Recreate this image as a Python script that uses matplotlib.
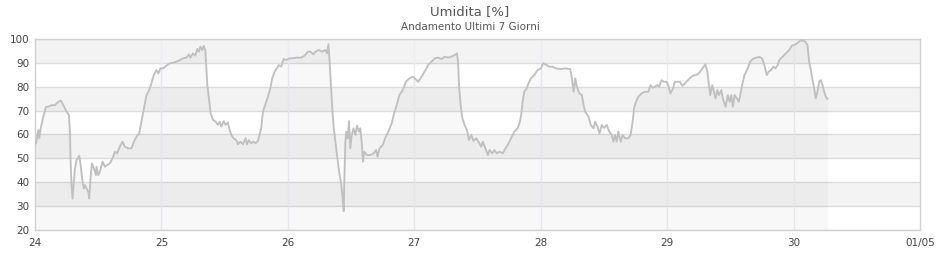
import matplotlib
matplotlib.use("Agg")
import matplotlib.pyplot as plt
import numpy as np

# ---- data (day of month, relative humidity %) ----
days_a = [24.008, 24.026, 24.034, 24.045, 24.066, 24.087, 24.105, 24.132, 24.158, 24.184,
          24.205, 24.224, 24.25, 24.268, 24.276, 24.282, 24.289, 24.297, 24.308, 24.316,
          24.329, 24.35, 24.361, 24.376, 24.387, 24.395, 24.408, 24.421, 24.429, 24.439,
          24.45, 24.466, 24.482, 24.487, 24.5, 24.513, 24.534, 24.553, 24.571, 24.592,
          24.613, 24.632, 24.65, 24.671, 24.692, 24.711, 24.737, 24.763, 24.782, 24.803,
          24.824, 24.842, 24.855, 24.868, 24.882, 24.903, 24.921, 24.939, 24.961, 24.976,
          24.992, 25.013, 25.039, 25.066, 25.097, 25.132, 25.171, 25.197, 25.218, 25.229,
          25.25, 25.268, 25.284, 25.297, 25.308, 25.324, 25.334, 25.347, 25.355, 25.363,
          25.376, 25.389, 25.408, 25.429, 25.447, 25.461, 25.474, 25.492, 25.508, 25.526,
          25.539, 25.553, 25.571, 25.592, 25.605, 25.624, 25.645, 25.666, 25.676, 25.692,
          25.711, 25.729, 25.745, 25.763, 25.776, 25.789, 25.803, 25.824, 25.842, 25.861,
          25.876, 25.895, 25.913, 25.929, 25.947, 25.966, 25.987, 26.013, 26.039, 26.066,
          26.105, 26.132, 26.158]
hum_a = [56.3, 61.9, 58.4, 62.6, 67.5, 71.6, 71.6, 72.3, 72.3, 73.7,
         74.2, 72.3, 69.6, 68.2, 61.2, 48.6, 38.8, 33.2, 40.2, 45.8,
         49.3, 51.1, 47.2, 40.2, 37.4, 38.8, 37.4, 36.0, 33.2, 41.6,
         47.9, 45.8, 43.0, 46.5, 43.0, 44.4, 48.6, 46.5, 47.2, 47.9,
         50.0, 52.8, 52.1, 54.9, 57.0, 54.9, 54.2, 54.2, 57.0, 59.1,
         60.5, 65.4, 68.9, 72.3, 76.5, 78.6, 81.4, 84.9, 87.0, 85.6,
         87.7, 87.7, 88.8, 89.8, 90.1, 90.8, 91.9, 92.2, 93.6, 92.2,
         94.0, 93.0, 95.8, 94.7, 96.8, 95.4, 97.1, 95.4, 87.7, 80.7,
         75.1, 68.9, 66.1, 65.4, 64.0, 65.4, 63.3, 65.6, 64.0, 65.1,
         61.9, 59.8, 58.4, 57.7, 55.9, 57.0, 55.9, 58.4, 55.9, 57.7,
         56.3, 57.0, 56.3, 57.3, 59.8, 62.6, 69.6, 73.0, 75.8, 79.3,
         83.5, 86.3, 87.7, 89.1, 88.4, 91.6, 91.2, 91.9, 91.9, 92.2,
         92.2, 93.0, 94.7]

days_b = [26.179, 26.2, 26.219, 26.245, 26.271, 26.297, 26.31, 26.321, 26.332, 26.342,
          26.353, 26.363, 26.376, 26.389, 26.402, 26.415, 26.423, 26.431, 26.442, 26.447,
          26.455, 26.463, 26.473, 26.484, 26.494, 26.505, 26.52, 26.533, 26.547, 26.562,
          26.573, 26.586, 26.594, 26.604, 26.625, 26.651, 26.678, 26.698, 26.709, 26.725,
          26.751, 26.769, 26.795, 26.822, 26.84, 26.861, 26.882, 26.908, 26.934, 26.961,
          26.987, 27.005, 27.031, 27.058, 27.084, 27.11, 27.136, 27.162, 27.189, 27.215,
          27.241, 27.267, 27.293, 27.32, 27.338, 27.346, 27.354, 27.364, 27.38, 27.398,
          27.417, 27.432, 27.451, 27.469, 27.49, 27.511, 27.529, 27.542, 27.563, 27.582,
          27.595, 27.616, 27.634, 27.653, 27.673, 27.7, 27.721, 27.739, 27.765, 27.791,
          27.818, 27.836, 27.849, 27.857, 27.87, 27.888, 27.909, 27.922, 27.949, 27.975,
          28.001, 28.019, 28.04, 28.067, 28.093, 28.119, 28.158]
hum_b = [94.7, 93.6, 94.7, 95.4, 94.7, 95.4, 94.0, 97.8, 89.1, 79.3,
         69.6, 62.6, 57.0, 51.4, 45.8, 41.6, 38.8, 34.6, 27.9, 41.6,
         57.0, 61.2, 58.4, 65.6, 54.2, 59.8, 62.6, 59.8, 63.7, 61.2,
         62.6, 55.6, 48.6, 52.8, 51.4, 51.4, 52.1, 53.5, 50.7, 54.2,
         55.6, 58.4, 61.2, 64.7, 68.9, 72.3, 76.5, 78.6, 82.1, 83.5,
         84.2, 83.5, 82.1, 84.2, 86.6, 89.1, 90.5, 91.9, 92.2, 91.6,
         92.6, 92.2, 92.6, 93.3, 94.0, 90.5, 80.7, 73.7, 66.8, 64.0,
         61.9, 57.7, 59.8, 57.3, 58.4, 56.7, 54.9, 57.0, 54.2, 51.4,
         53.5, 52.1, 53.5, 52.1, 52.8, 52.1, 54.2, 55.6, 58.4, 61.2,
         62.6, 65.4, 69.6, 73.7, 77.9, 79.3, 82.1, 83.5, 84.9, 87.0,
         87.7, 89.8, 89.4, 88.4, 88.4, 87.7, 87.4]

days_c = [28.194, 28.234, 28.247, 28.26, 28.273, 28.286, 28.307, 28.326, 28.339, 28.352,
          28.378, 28.396, 28.417, 28.431, 28.449, 28.465, 28.483, 28.501, 28.522, 28.543,
          28.562, 28.575, 28.588, 28.601, 28.614, 28.633, 28.648, 28.667, 28.693, 28.711,
          28.727, 28.738, 28.753, 28.772, 28.798, 28.824, 28.851, 28.869, 28.885, 28.903,
          28.921, 28.937, 28.956, 28.974, 28.995, 29.008, 29.026, 29.047, 29.06, 29.079,
          29.1, 29.121, 29.139, 29.166, 29.192, 29.218, 29.244, 29.27, 29.289, 29.302,
          29.318, 29.331, 29.341, 29.357, 29.37, 29.383, 29.396, 29.41, 29.428, 29.441,
          29.462, 29.48, 29.494, 29.507, 29.52, 29.533, 29.551, 29.567, 29.578, 29.593,
          29.612, 29.625, 29.638, 29.656, 29.677, 29.704, 29.73, 29.751, 29.769, 29.788,
          29.803, 29.822, 29.84, 29.856, 29.874, 29.887, 29.913, 29.94, 29.966, 29.987,
          30.018, 30.05, 30.071, 30.092, 30.11, 30.123, 30.137, 30.15, 30.163, 30.176,
          30.189, 30.202, 30.215, 30.229, 30.242, 30.255, 30.268]
hum_c = [87.7, 87.4, 83.5, 77.9, 83.5, 80.0, 77.2, 76.5, 72.3, 69.6,
         67.5, 64.0, 62.6, 65.4, 63.3, 60.5, 64.0, 62.8, 64.0, 61.2,
         59.8, 57.0, 59.8, 57.0, 61.2, 57.0, 59.8, 58.4, 58.4, 59.8,
         65.4, 70.9, 73.7, 75.8, 77.2, 77.9, 77.9, 80.7, 79.6, 80.0,
         80.7, 80.0, 82.8, 82.1, 82.1, 80.7, 77.2, 79.3, 82.1, 82.1,
         82.1, 80.4, 81.4, 82.8, 84.2, 84.9, 85.2, 87.0, 88.4, 89.4,
         86.3, 80.7, 76.5, 80.7, 77.9, 75.1, 78.6, 76.5, 78.6, 75.1,
         71.6, 76.5, 73.7, 76.5, 71.6, 76.5, 75.1, 73.7, 76.5, 80.7,
         84.9, 86.3, 87.7, 90.5, 91.6, 92.2, 92.5, 91.9, 89.1, 84.9,
         86.3, 87.0, 88.4, 87.7, 89.1, 91.2, 92.6, 94.0, 95.4, 97.2,
         97.8, 99.2, 99.4, 98.9, 97.5, 90.5, 87.0, 82.8, 79.3, 75.1,
         77.9, 82.1, 82.8, 80.7, 77.9, 75.8, 74.9]

x_ticks = [24, 25, 26, 27, 28, 29, 30, 31]
x_labels = ["24", "25", "26", "27", "28", "29", "30", "01/05"]
y_ticks = [20, 30, 40, 50, 60, 70, 80, 90, 100]

title = "Umidita [%]"
subtitle = "Andamento Ultimi 7 Giorni"

days = np.array(days_a + days_b + days_c)
hum = np.array(hum_a + hum_b + hum_c)

# ---- figure ----
plt.rcParams['font.family'] = ['DejaVu Sans']
fig = plt.figure(figsize=(9.4, 2.6), dpi=100)
ax = fig.add_axes([35 / 940, 1 - 230 / 260, 885 / 940, 191 / 260])
ax.set_xlim(24, 31)
ax.set_ylim(20, 100)

# alternating horizontal bands: 90-100 gray, 80-90 white, 70-80 gray, ...
for lo in y_ticks[:-1]:
    idx = (100 - lo) // 10
    color = "#f3f3f3" if idx % 2 == 1 else "#ffffff"
    ax.axhspan(lo, lo + 10, color=color, zorder=0, lw=0)

# grid
for yv in y_ticks:
    ax.axhline(yv, color="#dcdcdc", lw=1.0, zorder=1)
for xv in x_ticks[1:-1]:
    ax.axvline(xv, color="#ececf6", lw=1.0, zorder=1)

# area + line
ax.fill_between(days, hum, 20, color="#000000", alpha=0.026, lw=0, zorder=2)
ax.plot(days, hum, color="#c0c0c0", lw=1.35, zorder=3)

ax.set_xticks(x_ticks)
ax.set_xticklabels(x_labels)
ax.set_yticks(y_ticks)
ax.tick_params(axis="both", length=0, labelsize=7.5, colors="#444444", pad=4)
ax.tick_params(axis="x", pad=6)
for sp in ax.spines.values():
    sp.set_color("#d0d0d0")
    sp.set_linewidth(1.0)

fig.text(0.5, 1 - 12 / 260, title, ha="center", va="center", fontsize=9.5, color="#555555")
fig.text(0.5, 1 - 27 / 260, subtitle, ha="center", va="center", fontsize=7.5, color="#555555")

fig.savefig("out.png", dpi=100, facecolor="white")
